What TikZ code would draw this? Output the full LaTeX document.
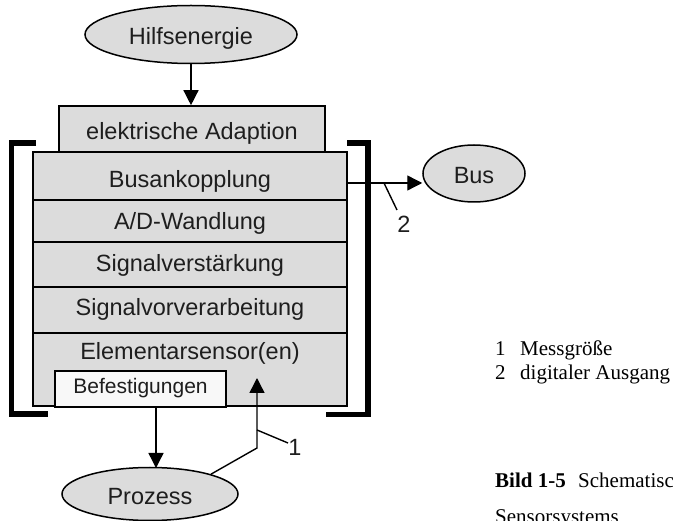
\documentclass[tikz,border=0pt]{standalone}
\usepackage{fontspec}
\setmainfont{Liberation Serif}
\newfontfamily\arialf{Liberation Sans}
\usetikzlibrary{shapes.geometric,arrows.meta}
\definecolor{boxgray}{RGB}{220,220,220}
\definecolor{boxlight}{RGB}{248,248,248}
\definecolor{inkgray}{RGB}{30,30,30}
\begin{document}
\begin{tikzpicture}[x=1pt,y=-1pt,
  sans/.style={font=\arialf\fontsize{23.5}{28}\selectfont, text=inkgray},
  ell/.style={ellipse, draw, line width=1.5pt, fill=boxgray, inner sep=0pt, sans, text depth=5pt},
  row/.style={rectangle, draw, line width=1.6pt, fill=boxgray, inner sep=0pt, minimum width=314pt, sans, text depth=5pt},
  arr/.style={line width=1.4pt, -{Triangle[length=15pt,width=15pt]}},
  thinline/.style={line width=1.4pt},
  brk/.style={line width=5.5pt},
  legend/.style={font=\fontsize{21}{25}\selectfont, anchor=base west, inner sep=0pt}
]
\path[use as bounding box, clip] (0,0) rectangle (673,521);

% ellipses
\node[ell, minimum width=212pt, minimum height=58pt, text height=26pt] (hilf) at (191,34.5) {Hilfsenergie};
\node[ell, minimum width=102pt, minimum height=57pt, text height=25pt] (bus) at (474,173.5) {Bus};
\node[ell, minimum width=176pt, minimum height=53pt, text height=27pt] (proz) at (150,494) {Prozess};

% stack
\node[row, minimum width=266pt, minimum height=46pt, text height=26pt] (adapt) at (192,129) {elektrische Adaption};
\node[row, minimum height=48pt, text height=28pt] (busk) at (190,176) {Busankopplung};
\node[row, minimum height=42pt, text height=23pt] (ad) at (190,221) {A/D-Wandlung};
\node[row, minimum height=45pt, text height=20pt] (verst) at (190,264.5) {Signalverstärkung};
\node[row, minimum height=46pt, text height=17pt] (vorv) at (190,310) {Signalvorverarbeitung};
\node[row, minimum height=73pt, text height=17pt, text depth=36pt] (elem) at (190,369.5) {Elementarsensor(en)};
\node[row, fill=boxlight, minimum width=171pt, minimum height=36pt,
      font=\arialf\fontsize{21}{25}\selectfont, text height=14.5pt, text depth=4.5pt] (bef) at (140.5,389) {Befestigungen};

% brackets
\draw[brk] (36,143) -- (11.5,143) -- (11.5,414) -- (48,414);
\draw[brk] (347,143) -- (368,143) -- (368,414.5) -- (326,414.5);

% connectors
\draw[arr] (hilf.south) -- (hilf.south |- adapt.north);
\coordinate (busout) at (347,183);
\draw[arr] (busout) -- (busout -| bus.west);
\coordinate (l2a) at (384,183);
\coordinate (l2b) at (397,210);
\draw[thinline] (l2a) -- (l2b);
\node[sans, inner sep=0pt] (n2) at (404,224.5) {2};

\coordinate (pin) at (156,468);
\draw[arr] (bef.south -| pin) -- (pin);

\coordinate (m1) at (257,448);
\coordinate (mtip) at (257,378);
\draw[arr] (proz.18) -- (m1) -- (mtip);
\coordinate (l1a) at (257,430);
\coordinate (l1b) at (288,443);
\draw[thinline] (l1a) -- (l1b);
\node[sans, inner sep=0pt] (n1) at (295,447) {1};

% legend
\node[legend] (k1) at (495,356) {1};
\node[legend] (t1) at (520,356) {Messgröße};
\node[legend] (k2) at (495,380) {2};
\node[legend] (t2) at (520,380) {digitaler Ausgang};
\node[legend] (cap) at (495,488) {\textbf{Bild 1-5}};
\node[legend] (capt) at (578,488) {Schematisc};
\node[legend] (capt2) at (495,524) {Sensorsystems};
\end{tikzpicture}
\end{document}
